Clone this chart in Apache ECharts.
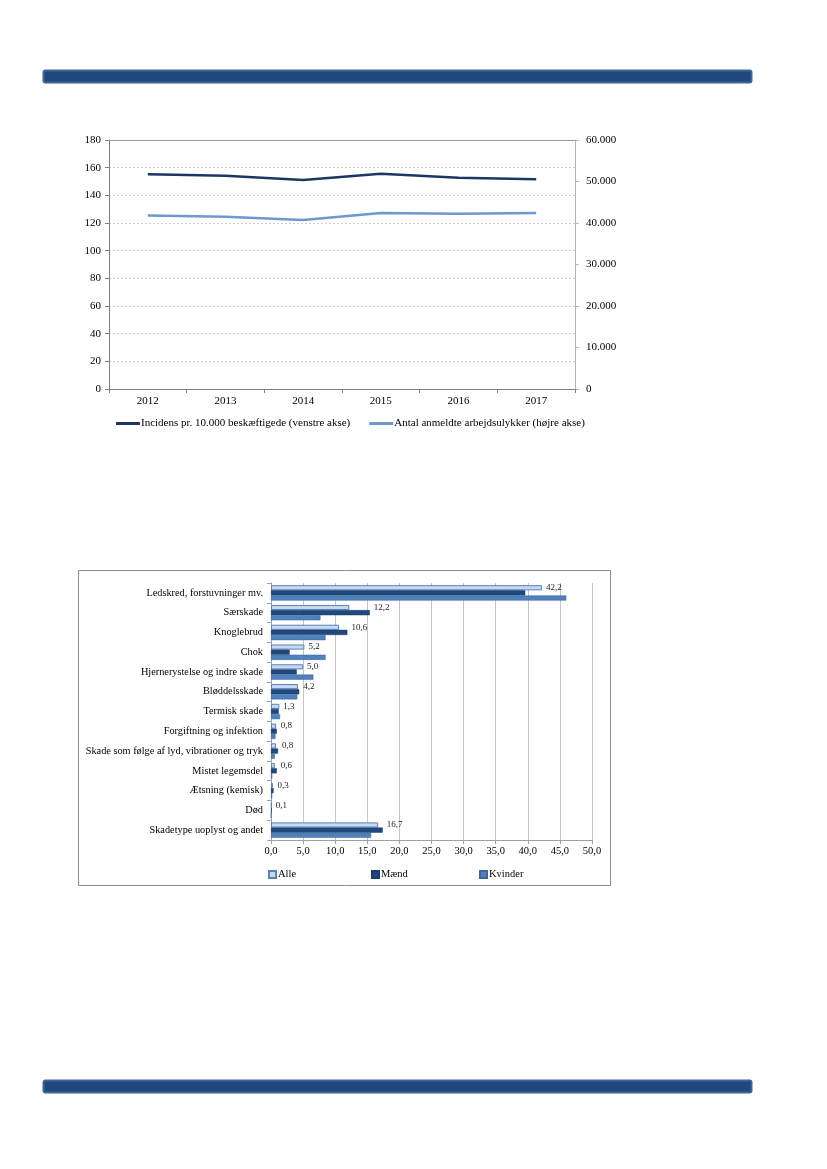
<!DOCTYPE html>
<html><head><meta charset="utf-8">
<script src="https://cdn.jsdelivr.net/npm/echarts@6/dist/echarts.min.js"></script>
<style>html,body{margin:0;padding:0;background:#fff}#c{width:827px;height:1169px}</style>
</head><body><div id="c"></div>
<script>
// ---- Top chart data ----
const years = ['2012','2013','2014','2015','2016','2017'];
const incidens = [155.2, 154.2, 151.0, 155.6, 152.8, 151.6];
const anmeldte = [41800, 41500, 40700, 42400, 42200, 42400];
const seriesTop = ['Incidens pr. 10.000 beskæftigede (venstre akse)', 'Antal anmeldte arbejdsulykker (højre akse)'];

// ---- Bottom chart data ----
const skadetyper = ['Ledskred, forstuvninger mv.','Særskade','Knoglebrud','Chok','Hjernerystelse og indre skade','Bløddelsskade','Termisk skade','Forgiftning og infektion','Skade som følge af lyd, vibrationer og tryk','Mistet legemsdel','Ætsning (kemisk)','Død','Skadetype uoplyst og andet'];
const alle    = [42.2, 12.2, 10.6, 5.2, 5.0, 4.2, 1.3, 0.8, 0.8, 0.6, 0.3, 0.1, 16.7];
const maend   = [39.6, 15.4, 11.9, 2.9, 4.0, 4.4, 1.2, 0.9, 1.1, 0.9, 0.4, 0.1, 17.4];
const kvinder = [46.0, 7.7, 8.5, 8.5, 6.6, 4.1, 1.4, 0.7, 0.6, 0.2, 0.2, 0.0, 15.6];
const seriesBottom = ['Alle','Mænd','Kvinder'];

const FONT = 'Liberation Serif';
const dk = v => String(v).replace(/\B(?=(\d{3})+(?!\d))/g, '.');
const comma = v => v.toFixed(1).replace('.', ',');

const barPlotW = 321, barMax = 50;
const alleData = alle.map((v, i) => {
  const dx = Math.max(0, maend[i] - v) * barPlotW / barMax;
  return { value: v, label: { offset: [dx, 0] } };
});

const chart = echarts.init(document.getElementById('c'), null, {renderer:'canvas'});
chart.setOption({
  animation: false,
  textStyle: { fontFamily: FONT },
  graphic: [
    { type:'rect', shape:{x:43.5,y:70.5,width:708,height:12,r:2}, style:{fill:'#1f497d', stroke:'#3e6596', lineWidth:2} },
    { type:'rect', shape:{x:43.5,y:1080.5,width:708,height:12,r:2}, style:{fill:'#1f497d', stroke:'#3e6596', lineWidth:2} },
    { type:'line', z:10, shape:{x1:109,y1:140.5,x2:575,y2:140.5}, style:{stroke:'#9a9a9a', lineWidth:1} },
    { type:'rect', shape:{x:78.5,y:570.5,width:532,height:315}, style:{fill:'none', stroke:'#8c8c8c', lineWidth:1} }
  ],
  grid: [
    { left:109, top:140, width:466, height:249, containLabel:false },
    { left:271, top:583, width:321, height:257, containLabel:false }
  ],
  legend: [
    { left:111, top:413, itemWidth:24, itemHeight:3, itemGap:19, icon:'rect',
      data: seriesTop, textStyle:{fontFamily:FONT, fontSize:11, color:'#000', padding:[0,0,0,-4]} },
    { left:263, top:864, itemWidth:7, itemHeight:7, icon:'rect', data:['Alle'], textStyle:{fontFamily:FONT, fontSize:10.5, color:'#000', padding:[0,0,0,-3]} },
    { left:366, top:864, itemWidth:7, itemHeight:7, icon:'rect', data:['Mænd'], textStyle:{fontFamily:FONT, fontSize:10.5, color:'#000', padding:[0,0,0,-3]} },
    { left:474, top:864, itemWidth:7, itemHeight:7, icon:'rect', data:['Kvinder'], textStyle:{fontFamily:FONT, fontSize:10.5, color:'#000', padding:[0,0,0,-3]} }
  ],
  xAxis: [
    { gridIndex:0, type:'category', data: years, boundaryGap:true,
      axisLine:{lineStyle:{color:'#808080'}}, axisTick:{show:true, alignWithLabel:false, length:4, lineStyle:{color:'#808080'}},
      axisLabel:{fontFamily:FONT, fontSize:11, color:'#000', margin:7} },
    { gridIndex:1, type:'value', min:0, max:50, interval:5,
      axisLine:{show:true, lineStyle:{color:'#a0a0a0'}}, axisTick:{show:true, length:4, lineStyle:{color:'#a0a0a0'}},
      splitLine:{show:true, lineStyle:{color:'#c4c4c4'}},
      axisLabel:{fontFamily:FONT, fontSize:10.5, color:'#000', margin:6, formatter: comma} }
  ],
  yAxis: [
    { gridIndex:0, type:'value', min:0, max:180, interval:20, position:'left',
      axisLine:{show:true, lineStyle:{color:'#808080'}}, axisTick:{show:true, length:4, lineStyle:{color:'#808080'}},
      splitLine:{show:true, lineStyle:{color:'#cfcfcf', type:[2,2]}},
      axisLabel:{fontFamily:FONT, fontSize:11, color:'#000', margin:8} },
    { gridIndex:0, type:'value', min:0, max:60000, interval:10000, position:'right',
      axisLine:{show:true, lineStyle:{color:'#b4b4b4'}}, axisTick:{show:true, length:4, lineStyle:{color:'#b4b4b4'}},
      splitLine:{show:false},
      axisLabel:{fontFamily:FONT, fontSize:11, color:'#000', margin:11, formatter: dk} },
    { gridIndex:1, type:'category', data: skadetyper, inverse:true,
      axisLine:{show:true, lineStyle:{color:'#a0a0a0'}}, axisTick:{show:true, length:4, lineStyle:{color:'#a0a0a0'}},
      axisLabel:{fontFamily:FONT, fontSize:10.3, color:'#000', margin:8, interval:0} }
  ],
  series: [
    { name: seriesTop[0], type:'line', xAxisIndex:0, yAxisIndex:0, data: incidens,
      symbol:'none', lineStyle:{width:2.5, color:'#1c3762'}, itemStyle:{color:'#1c3762'} },
    { name: seriesTop[1], type:'line', xAxisIndex:0, yAxisIndex:1, data: anmeldte,
      symbol:'none', lineStyle:{width:2.5, color:'#6e99d0'}, itemStyle:{color:'#6e99d0'} },
    { name: seriesBottom[0], type:'bar', xAxisIndex:1, yAxisIndex:2, data: alleData,
      barGap:'0%', barCategoryGap:'22%',
      itemStyle:{color:'#c6d9f1', borderColor:'#5a82b8', borderWidth:1},
      label:{show:true, position:'right', distance:4, fontFamily:FONT, fontSize:9, color:'#222', formatter: p => comma(p.value)} },
    { name: seriesBottom[1], type:'bar', xAxisIndex:1, yAxisIndex:2, data: maend,
      barGap:'0%', barCategoryGap:'22%',
      itemStyle:{color:'#1f497d', borderColor:'#1a3d69', borderWidth:0.5} },
    { name: seriesBottom[2], type:'bar', xAxisIndex:1, yAxisIndex:2, data: kvinder,
      barGap:'0%', barCategoryGap:'22%',
      itemStyle:{color:'#4f81bd', borderColor:'#3a679e', borderWidth:0.5} }
  ]
});
</script></body></html>
